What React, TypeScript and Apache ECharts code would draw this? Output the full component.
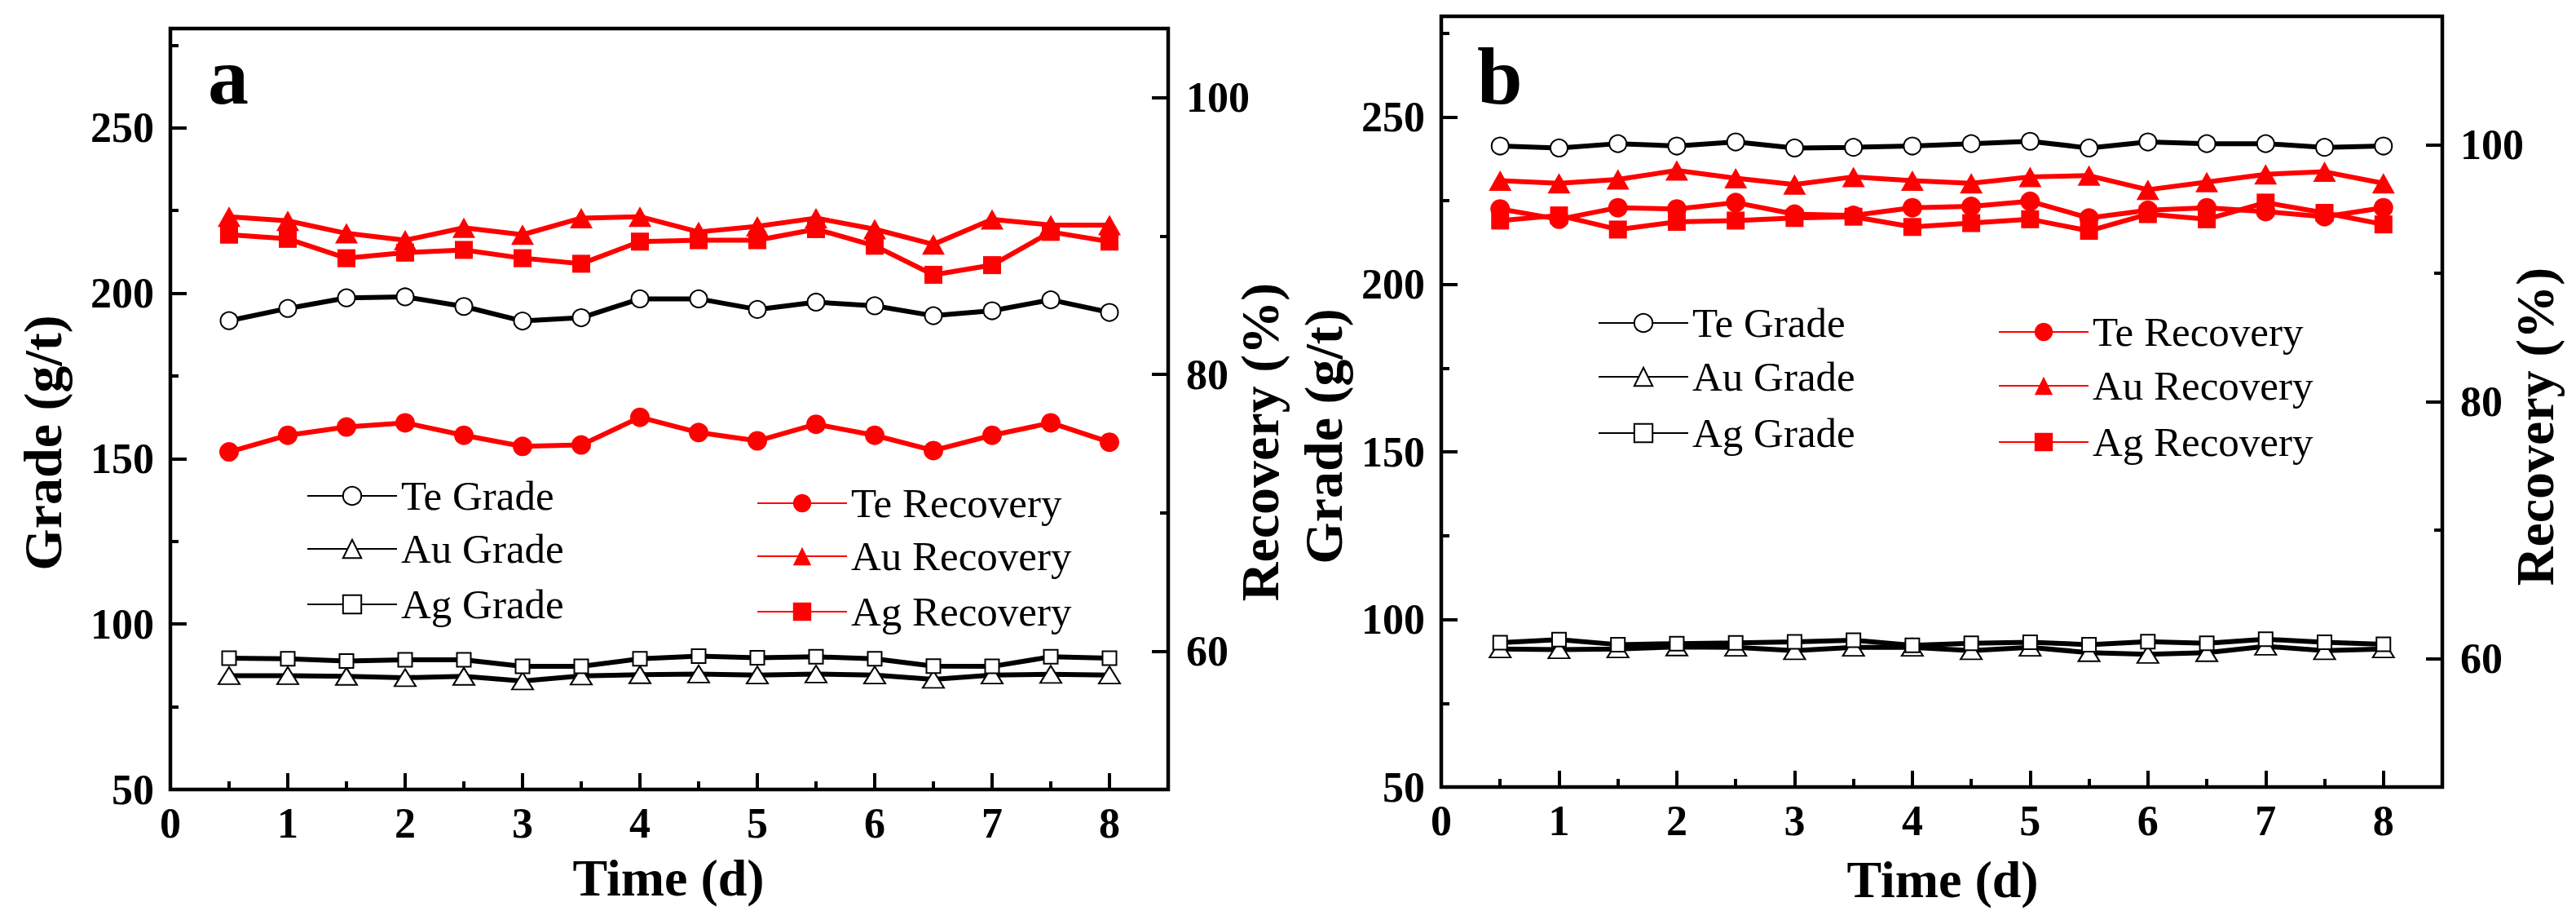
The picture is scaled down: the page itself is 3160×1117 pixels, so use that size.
import React, { useEffect, useRef } from "react";
import * as echarts from "echarts";

const FONT = '"Liberation Serif", "Times New Roman", serif';

// ---------- data ----------
const TIME = [0.5, 1, 1.5, 2, 2.5, 3, 3.5, 4, 4.5, 5, 5.5, 6, 6.5, 7, 7.5, 8];

const X_MAJOR_TICKS = [0, 1, 2, 3, 4, 5, 6, 7, 8];
const X_MINOR_TICKS = [0.5, 1.5, 2.5, 3.5, 4.5, 5.5, 6.5, 7.5];
const GRADE_MAJOR_TICKS = [50, 100, 150, 200, 250];
const GRADE_MINOR_TICKS = [75, 125, 175, 225, 275];
const REC_MAJOR_TICKS = [60, 80, 100];
const REC_MINOR_TICKS = [70, 90];

// Panel a
const A_TE_GRADE = [191.7, 195.4, 198.6, 198.9, 196.0, 191.6, 192.6, 198.3, 198.3, 195.1, 197.3, 196.2, 193.2, 194.7, 198.0, 194.2];
const A_AU_GRADE = [84.4, 84.4, 84.2, 83.8, 84.2, 82.8, 84.3, 84.7, 84.9, 84.6, 84.9, 84.6, 83.3, 84.6, 84.8, 84.6];
const A_AG_GRADE = [89.7, 89.5, 88.8, 89.2, 89.2, 87.2, 87.2, 89.5, 90.3, 89.8, 90.1, 89.5, 87.3, 87.2, 90.1, 89.7];
const A_TE_REC = [74.4, 75.6, 76.2, 76.5, 75.6, 74.8, 74.9, 76.9, 75.8, 75.2, 76.4, 75.6, 74.5, 75.6, 76.5, 75.1];
const A_AU_REC = [91.4, 91.1, 90.2, 89.7, 90.6, 90.1, 91.3, 91.4, 90.3, 90.7, 91.3, 90.5, 89.4, 91.2, 90.8, 90.8];
const A_AG_REC = [90.1, 89.8, 88.4, 88.8, 89.0, 88.4, 88.0, 89.6, 89.7, 89.7, 90.5, 89.3, 87.2, 87.9, 90.3, 89.6];

// Panel b
const B_TE_GRADE = [241.3, 240.7, 242.0, 241.3, 242.5, 240.7, 240.9, 241.3, 242.0, 242.7, 240.7, 242.5, 242.0, 242.0, 240.9, 241.3];
const B_AU_GRADE = [91.2, 91.0, 91.2, 91.8, 91.7, 90.7, 91.7, 91.7, 90.7, 91.7, 90.1, 89.6, 90.1, 92.0, 90.7, 91.2];
const B_AG_GRADE = [93.1, 94.0, 92.5, 92.8, 93.0, 93.3, 93.8, 92.3, 92.9, 93.2, 92.5, 93.4, 92.9, 94.1, 93.2, 92.6];
const B_TE_REC = [95.0, 94.2, 95.1, 95.0, 95.5, 94.6, 94.5, 95.1, 95.2, 95.6, 94.3, 94.9, 95.1, 94.8, 94.4, 95.1];
const B_AU_REC = [97.2, 97.0, 97.3, 98.0, 97.4, 96.9, 97.5, 97.2, 97.0, 97.5, 97.6, 96.5, 97.1, 97.7, 97.9, 97.0];
const B_AG_REC = [94.1, 94.5, 93.4, 94.0, 94.1, 94.3, 94.4, 93.6, 93.9, 94.2, 93.3, 94.6, 94.2, 95.5, 94.7, 93.8];

const NAMES = ["Te Grade", "Au Grade", "Ag Grade", "Te Recovery", "Au Recovery", "Ag Recovery"];

// ---------- styling helpers ----------
const BLACK = "#000000";
const RED = "#ff0000";

const labelStyle = {
  fontSize: 52,
  fontWeight: "bold" as const,
  fontFamily: FONT,
  color: BLACK,
  lineHeight: 46,
};

function xAxes(gridIndex: number) {
  const base = {
    type: "value" as const,
    gridIndex,
    position: "bottom" as const,
    min: 0,
    max: 8.5,
    axisLine: { show: false },
    splitLine: { show: false },
  };
  return [
    {
      ...base,
      interval: 1,
      axisTick: { show: true, inside: true, length: 20, lineStyle: { width: 4, color: BLACK }, customValues: X_MAJOR_TICKS },
      axisLabel: {
        ...labelStyle,
        margin: 18,
        customValues: X_MAJOR_TICKS,
        formatter: (v: number) => (X_MAJOR_TICKS.includes(v) ? String(v) : ""),
      },
    },
    {
      ...base,
      interval: 0.5,
      axisTick: { show: true, inside: true, length: 10, lineStyle: { width: 4, color: BLACK }, customValues: X_MINOR_TICKS },
      axisLabel: { show: false },
    },
  ];
}

function yAxes(gridIndex: number, side: "left" | "right", min: number, max: number, major: number[], minor: number[], interval: number) {
  const base = {
    type: "value" as const,
    gridIndex,
    position: side,
    min,
    max,
    interval,
    axisLine: { show: false },
    splitLine: { show: false },
  };
  return [
    {
      ...base,
      axisTick: { show: true, inside: true, length: 20, lineStyle: { width: 4, color: BLACK }, customValues: major },
      axisLabel: {
        ...labelStyle,
        margin: side === "left" ? 20 : 22,
        customValues: major,
        formatter: (v: number) => (major.includes(v) ? String(v) : ""),
      },
    },
    {
      ...base,
      axisTick: { show: true, inside: true, length: 10, lineStyle: { width: 4, color: BLACK }, customValues: minor },
      axisLabel: { show: false },
    },
  ];
}

type Sym = { symbol: string; size: number | number[] };
const SYMBOLS: Record<string, Sym> = {
  "Te Grade": { symbol: "emptyCircle", size: 21 },
  "Au Grade": { symbol: "emptyTriangle", size: [26, 21] },
  "Ag Grade": { symbol: "emptyRect", size: 17 },
  "Te Recovery": { symbol: "circle", size: 24 },
  "Au Recovery": { symbol: "triangle", size: [28, 25] },
  "Ag Recovery": { symbol: "rect", size: 22 },
};

function lineSeries(name: string, values: number[], xAxisIndex: number, yAxisIndex: number) {
  const color = name.includes("Grade") ? BLACK : RED;
  const s = SYMBOLS[name];
  const empty = s.symbol.startsWith("empty");
  return {
    type: "line" as const,
    name,
    xAxisIndex,
    yAxisIndex,
    data: TIME.map((t, i) => [t, values[i]]),
    symbol: s.symbol,
    symbolSize: s.size,
    showSymbol: true,
    showAllSymbol: true,
    silent: true,
    emphasis: { disabled: true },
    lineStyle: { color, width: 6 },
    itemStyle: { color, borderColor: color, borderWidth: empty ? 3 : 0 },
    z: 3,
  };
}

function legendItem(name: string, left: number, centerY: number) {
  return {
    data: [name],
    left,
    top: centerY - 25.5,
    orient: "vertical" as const,
    padding: 0,
    itemWidth: 110,
    itemHeight: 28,
    selectedMode: false,
    textStyle: { fontFamily: FONT, fontSize: 51, color: BLACK, lineHeight: 51 },
  };
}

function textEl(text: string, x: number, y: number, size: number, rotate: boolean, align: string = "center") {
  return {
    type: "text" as const,
    x,
    y,
    rotation: rotate ? Math.PI / 2 : 0,
    silent: true,
    style: {
      text,
      fontSize: size,
      fontWeight: "bold",
      fontFamily: FONT,
      fill: BLACK,
      lineHeight: Math.round(size * 0.85),
      align,
      verticalAlign: "middle",
      textAlign: align,
      textVerticalAlign: "middle",
    },
  };
}

export default function App() {
  const ref = useRef<HTMLDivElement>(null);

  useEffect(() => {
    if (!ref.current) return;
    const chart = echarts.init(ref.current, null, { renderer: "svg" });

    const gridStyle = { show: true, borderColor: BLACK, borderWidth: 4.5, backgroundColor: "transparent", outerBoundsMode: "none" };

    const option: any = {
      animation: false,
      backgroundColor: "#ffffff",
      grid: [
        { ...gridStyle, left: 209, top: 35, width: 1224, height: 933 },
        { ...gridStyle, left: 1768, top: 20, width: 1228, height: 945 },
      ],
      xAxis: [...xAxes(0), ...xAxes(1)],
      yAxis: [
        ...yAxes(0, "left", 50, 280, GRADE_MAJOR_TICKS, GRADE_MINOR_TICKS, 25),
        ...yAxes(0, "right", 50, 105, REC_MAJOR_TICKS, REC_MINOR_TICKS, 10),
        ...yAxes(1, "left", 50, 280, GRADE_MAJOR_TICKS, GRADE_MINOR_TICKS, 25),
        ...yAxes(1, "right", 50, 110, REC_MAJOR_TICKS, REC_MINOR_TICKS, 10),
      ],
      legend: [
        legendItem(NAMES[0], 376, 608),
        legendItem(NAMES[1], 376, 673),
        legendItem(NAMES[2], 376, 741),
        legendItem(NAMES[3], 928, 617),
        legendItem(NAMES[4], 928, 682),
        legendItem(NAMES[5], 928, 750),
        legendItem(NAMES[0], 1960, 396),
        legendItem(NAMES[1], 1960, 462),
        legendItem(NAMES[2], 1960, 531),
        legendItem(NAMES[3], 2451, 407),
        legendItem(NAMES[4], 2451, 473),
        legendItem(NAMES[5], 2451, 542),
      ],
      series: [
        lineSeries("Te Grade", A_TE_GRADE, 0, 0),
        lineSeries("Au Grade", A_AU_GRADE, 0, 0),
        lineSeries("Ag Grade", A_AG_GRADE, 0, 0),
        lineSeries("Te Recovery", A_TE_REC, 0, 2),
        lineSeries("Au Recovery", A_AU_REC, 0, 2),
        lineSeries("Ag Recovery", A_AG_REC, 0, 2),
        lineSeries("Te Grade", B_TE_GRADE, 2, 4),
        lineSeries("Au Grade", B_AU_GRADE, 2, 4),
        lineSeries("Ag Grade", B_AG_GRADE, 2, 4),
        lineSeries("Te Recovery", B_TE_REC, 2, 6),
        lineSeries("Au Recovery", B_AU_REC, 2, 6),
        lineSeries("Ag Recovery", B_AG_REC, 2, 6),
      ],
      graphic: [
        textEl("Grade (g/t)", 52, 543, 66, true),
        textEl("Recovery (%)", 1545, 542, 66, true),
        textEl("Time (d)", 820, 1076, 64, false),
        textEl("Grade (g/t)", 1623, 535, 66, true),
        textEl("Recovery (%)", 3109, 523, 66, true),
        textEl("Time (d)", 2383, 1078, 64, false),
        textEl("a", 255, 93, 100, false, "left"),
        textEl("b", 1812, 93, 100, false, "left"),
      ],
    };

    chart.setOption(option);
    return () => chart.dispose();
  }, []);

  return (
    <div
      ref={ref}
      style={{ position: "fixed", left: 0, top: 0, width: 3160, height: 1117, background: "#ffffff" }}
    />
  );
}
